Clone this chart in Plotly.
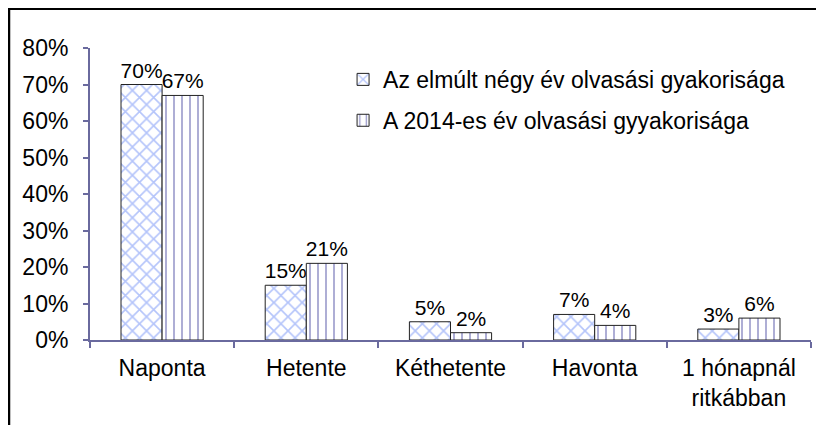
import plotly.graph_objects as go

categories = ["Naponta", "Hetente", "Kéthetente", "Havonta", "1 hónapnál<br>ritkábban"]
series1_name = "Az elmúlt négy év olvasási gyakorisága"
series2_name = "A 2014-es év olvasási gyyakorisága"
series1 = [0.70, 0.15, 0.05, 0.07, 0.03]
series2 = [0.67, 0.21, 0.02, 0.04, 0.06]
y_ticks = [0, 0.1, 0.2, 0.3, 0.4, 0.5, 0.6, 0.7, 0.8]

FONT = "Liberation Sans, Arial, sans-serif"
AXIS = "#6a6a9e"
FS = 23
LBL = 21

fig = go.Figure()
fig.add_trace(go.Bar(
    x=categories, y=series1, name=series1_name, legendgroup="a",
    text=[f"{v*100:.0f}%" for v in series1], textposition="outside",
    constraintext="none", textangle=0,
    textfont=dict(size=LBL, color="#000"), cliponaxis=False,
    marker=dict(color="white", line=dict(color="#222", width=1),
                pattern=dict(shape="x", fgcolor="#6a8af5", bgcolor="white", size=10, solidity=0.3)),
))
fig.add_trace(go.Bar(
    x=categories, y=series2, name=series2_name, legendgroup="b",
    text=[f"{v*100:.0f}%" for v in series2], textposition="outside",
    constraintext="none", textangle=0,
    textfont=dict(size=LBL, color="#000"), cliponaxis=False,
    marker=dict(color="white", line=dict(color="#222", width=1),
                pattern=dict(shape="|", fgcolor="#1c1c8a", bgcolor="white", size=8, solidity=0.18)),
))

fig.update_layout(
    width=816, height=417,
    margin=dict(l=82, r=13, t=40, b=85, autoexpand=False),
    paper_bgcolor="white", plot_bgcolor="white",
    barmode="group", bargap=0.43, bargroupgap=0,
    font=dict(family=FONT, size=FS, color="#000"),
    showlegend=True,
    legend=dict(x=0.351, y=0.966, xanchor="left", yanchor="top",
                font=dict(size=FS), bgcolor="rgba(0,0,0,0)",
                tracegroupgap=8, itemwidth=30),
    xaxis=dict(showline=True, linecolor=AXIS, linewidth=2, ticks="outside",
               tickson="boundaries", tickcolor=AXIS, ticklen=6, tickwidth=2,
               showgrid=False, tickfont=dict(size=FS), automargin=False,
               ticklabelstandoff=6),
    yaxis=dict(range=[0, 0.8], tickvals=y_ticks, tickformat=".0%",
               showline=True, linecolor=AXIS, linewidth=2, ticks="outside",
               tickcolor=AXIS, ticklen=5, tickwidth=2, showgrid=False,
               zeroline=False, tickfont=dict(size=FS), automargin=False,
               ticklabelstandoff=10),
    shapes=[dict(type="rect", xref="paper", yref="paper",
                 x0=(1-82)/721, x1=1.2, y0=-0.5, y1=(332-0.8)/292,
                 line=dict(color="black", width=2.5), layer="below")],
)

fig.write_html("out.html")
